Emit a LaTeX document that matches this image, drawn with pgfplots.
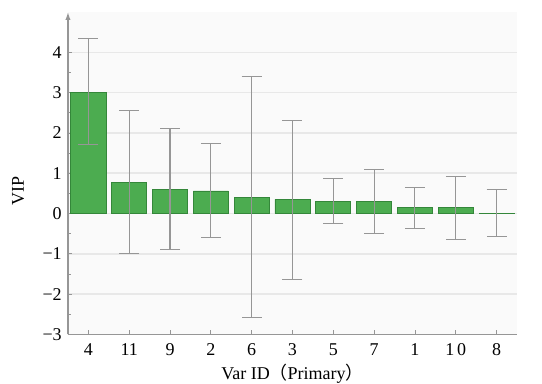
\documentclass[border=0pt]{standalone}
\usepackage{pgfplots}
\pgfplotsset{compat=1.18}
\usepackage{pgfplotstable}
\usepackage{fontspec}
\setmainfont{Liberation Serif}
\newfontfamily\cjk{Noto Sans CJK SC}
\usetikzlibrary{arrows.meta}
\definecolor{barfill}{RGB}{76,172,80}
\definecolor{bardraw}{RGB}{52,135,58}
\definecolor{errc}{RGB}{150,150,150}
\definecolor{gridc}{RGB}{232,232,232}
\definecolor{axc}{RGB}{150,150,150}
\definecolor{bgc}{RGB}{250,250,250}
\pgfplotstableread{
x val plus minus
0 3.00 1.35 1.28
1 0.77 1.79 1.76
2 0.59 1.52 1.49
3 0.56 1.18 1.16
4 0.40 3.00 2.98
5 0.35 1.96 1.99
6 0.30 0.57 0.55
7 0.30 0.79 0.80
8 0.15 0.50 0.53
9 0.14 0.78 0.79
10 0.01 0.59 0.57
}\vipdata
\begin{document}
\fontsize{13.5}{16}\selectfont
\begin{tikzpicture}
\begin{axis}[
  scale only axis,
  width=337pt, height=242pt,
  xmin=-0.5, xmax=10.5,
  ymin=-3, ymax=5,
  axis y line*=left,
  axis x line*=bottom,
  axis line style={draw=axc, line width=1pt},
  y axis line style={-{Latex[length=6pt,width=4pt]}},
  xtick={0,...,10},
  xticklabels={4,11,9,2,6,3,5,7,1,1\kern2pt0,8},
  ytick={-3,...,4},
  yticklabels={−3,−2,−1,0,1,2,3,4},
  minor y tick num=1,
  tick style={draw=axc, line width=0.6pt},
  major tick length=3pt, minor tick length=2pt,
  tick align=inside,
  ymajorgrids,
  grid style={draw=gridc, line width=1.1pt},
  axis background/.style={fill=bgc},
  xticklabel style={font=\fontsize{13.5}{16}\selectfont, yshift=-2pt},
  yticklabel style={font=\fontsize{13.5}{16}\selectfont},
  xlabel={Var ID{\cjk （}Primary{\cjk ）}},
  ylabel={VIP},
  xlabel style={at={(axis description cs:0.5,-0.121)}, anchor=center, font=\fontsize{13.5}{16}\selectfont},
  ylabel style={at={(axis description cs:-0.111,0.446)}, anchor=center, rotate=0, font=\fontsize{13.5}{16}\selectfont},
  clip=false,
]
\addplot[ybar, bar width=0.86, bar shift=0pt, fill=barfill, draw=bardraw, line width=0.6pt,
  error bars/.cd, y dir=both, y explicit,
  error bar style={draw=errc, line width=0.8pt},
  error mark options={draw=errc, line width=0.8pt, mark size=7.5pt, rotate=90}]
  table[x=x, y=val, y error plus=plus, y error minus=minus] {\vipdata};
\end{axis}
\pgfresetboundingbox
\path ([shift={(-51pt,-36.75pt)}]current axis.south west) rectangle ([shift={(18.75pt,9pt)}]current axis.north east);
\end{tikzpicture}
\end{document}
